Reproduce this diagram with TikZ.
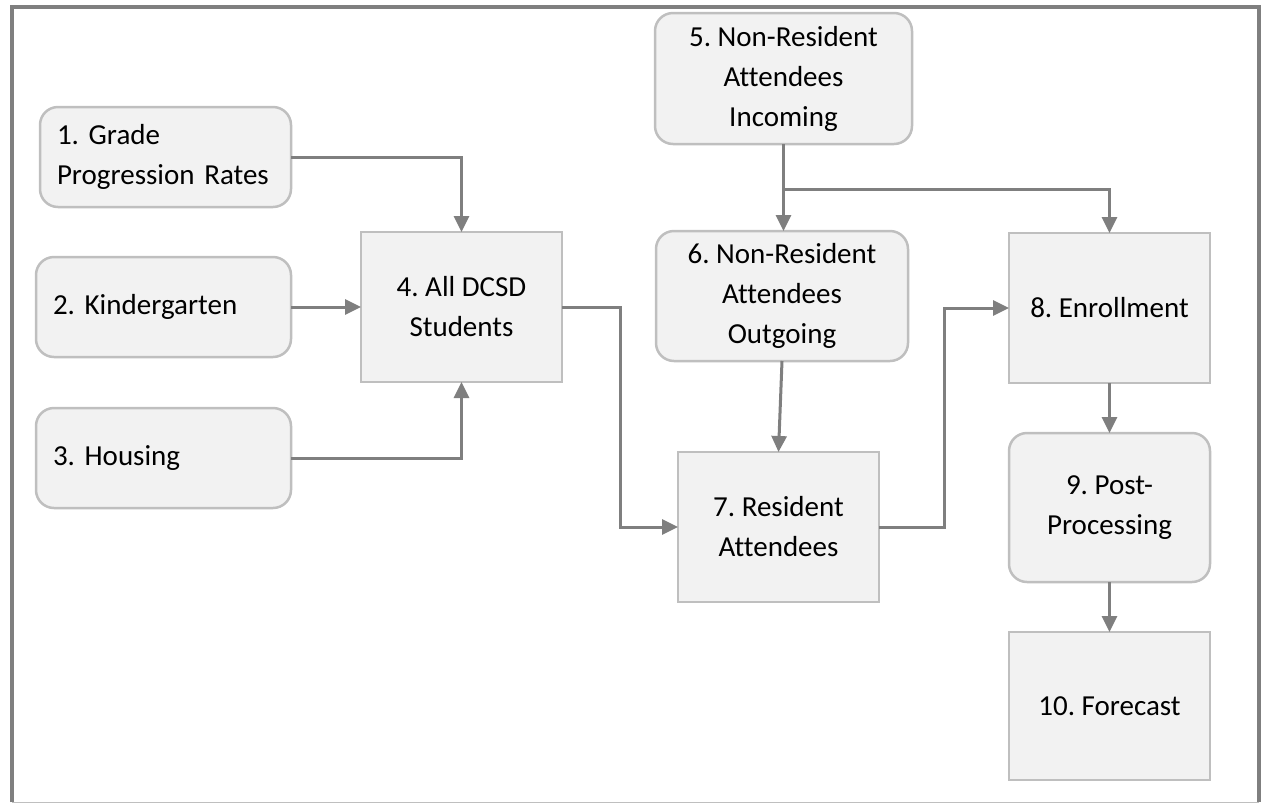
\documentclass[tikz,border=0pt]{standalone}
\usepackage{fontspec}
\setmainfont{Carlito}[Ligatures=NoCommon]
\usetikzlibrary{arrows.meta,positioning,calc}
\definecolor{boxfill}{HTML}{F2F2F2}
\definecolor{boxline}{HTML}{BFBFBF}
\definecolor{flowline}{HTML}{7F7F7F}

\begin{document}
\frenchspacing
\begin{tikzpicture}[x=1pt,y=-1pt]
    % enrollment forecast: inputs -> students -> attendees -> forecast
    \tikzset{stage/.style = {shape=rectangle,draw=boxline,fill=boxfill,line width=2.5pt,
        font=\fontsize{29pt}{40pt}\selectfont,align=center,inner sep=0pt,outer sep=0pt,
        minimum width=201pt,minimum height=150pt}}
    \tikzset{feed/.style = {stage,rounded corners=18pt}}
    \tikzset{side/.style = {feed,align=left,text width=221pt,inner xsep=17pt,
        minimum width=255pt,minimum height=100pt}}
    \tikzset{flow/.style = {draw=flowline,line width=3pt,-{Triangle[length=16pt,width=15pt]}}}
    \tikzset{frame/.style = {draw=flowline,line width=3.5pt}}

    \useasboundingbox (0,0) rectangle (1264,804);
    \draw[frame] (12,802) -- (12,7) -- (1259,7) -- (1259,802);
    \draw[boxline,line width=1.5pt] (12,802.5) -- (1259,802.5);

    % inputs
    \node[side]  (grade)   at (165.5,157) [text width=217pt,minimum width=251pt]
        {1. Grade\\Progression Rates};
    \node[side]  (kinder)  at (163.5,307)  {2. Kindergarten};
    \node[side]  (housing) [below=51pt of kinder] {3. Housing};
    \node[stage] (all)     at (461.5,307)  {4. All DCSD\\Students};

    % non-resident attendees
    \node[feed]  (inc) at (783.5,78.5) [minimum width=257pt,minimum height=131pt]
        {5. Non-Resident\\Attendees\\Incoming};
    \node[feed]  (out) at (782,296) [minimum width=252pt,minimum height=130pt]
        {6. Non-Resident\\Attendees\\Outgoing};
    \node[stage] (res) at (778.5,527)  {7. Resident\\Attendees};

    % results
    \node[stage] (enr)  at (1109.5,308)  {8. Enrollment};
    \node[feed]  (post) [below=50pt of enr,minimum height=149pt] {9. Post-\\Processing};
    \node[stage] (fc)   [below=50pt of post,minimum height=148pt] {10. Forecast};

    % connectors
    \draw[flow] (grade.east) -| (all.north);
    \draw[flow] (kinder.east) -- (all.west);
    \draw[flow] (housing.east) -| (all.south);
    \draw[flow] (all.east) -- ++(58,0) |- (res.west);
    \draw[flow] (inc.south) -- (inc.south |- out.north);
    \coordinate (split) at ($(inc.south)+(0,45)$);
    \draw[flow] (split) -| (enr.north);
    \draw[flow] (out.south) -- (res.north);
    \draw[flow] (res.east) -- ++(65,0) |- (enr.west);
    \draw[flow] (enr) -- (post);
    \draw[flow] (post) -- (fc);
\end{tikzpicture}
\end{document}
